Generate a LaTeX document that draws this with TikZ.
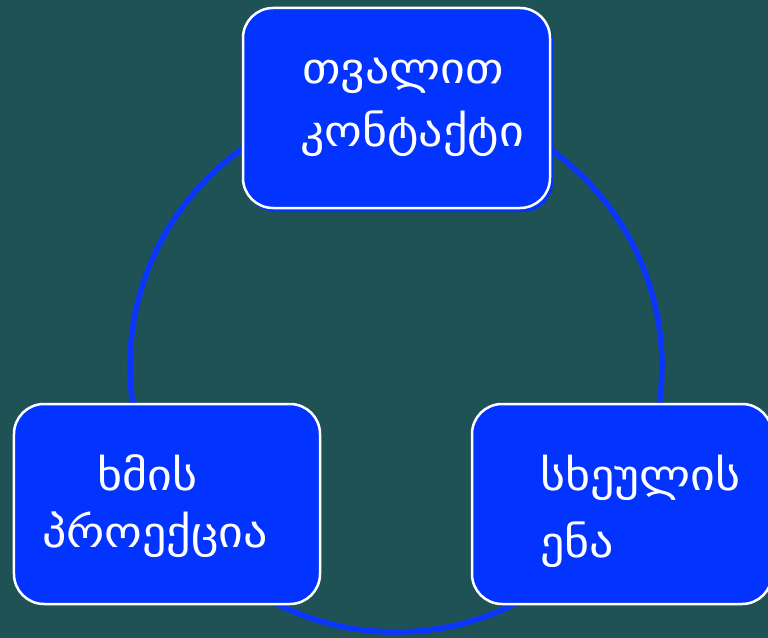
\documentclass[tikz,border=0pt]{standalone}
\usepackage{fontspec}
\newfontfamily\geo[FakeStretch=1.12]{DejaVu Sans}
\definecolor{bgteal}{RGB}{31,82,85}
\definecolor{boxblue}{RGB}{3,51,255}
\definecolor{ringblue}{RGB}{10,52,255}
\tikzset{
  box/.style={draw=white, line width=2.5bp, fill=boxblue, rounded corners=30bp, inner sep=0pt, outer sep=0pt, minimum height=200bp},
  lbl/.style={text=white, font=\geo\fontsize{43}{50}\selectfont, inner sep=0pt, anchor=base west}
}
\begin{document}
\begin{tikzpicture}[x=1bp,y=-1bp]
\useasboundingbox (0,0) rectangle (768,638);
\clip (0,0) rectangle (768,638);
\fill[bgteal] (0,0) rectangle (768,638);
\coordinate (c) at (396,366);
\draw[ringblue, line width=5.5bp] (c) circle[radius=266];
\fill[boxblue, rounded corners=30bp] (246,12) rectangle (553,212);
\node[box, minimum width=307bp] (top) at (396.5,108) {};
\node[box, minimum width=306bp] (left) at (167,504) {};
\node[box, minimum width=300bp] (right) at (622,504) {};
\node[lbl] (t1) at (302,84) {თვალით};
\node[lbl] (t2) at (300,147) {კონტაქტი};
\node[lbl] (l1) at (97,490) {ხმის};
\node[lbl] (l2) at (42,547) {პროექცია};
\node[lbl] (r1) at (540,490) {სხეულის};
\node[lbl] (r2) at (540,557) {ენა};
\end{tikzpicture}
\end{document}
